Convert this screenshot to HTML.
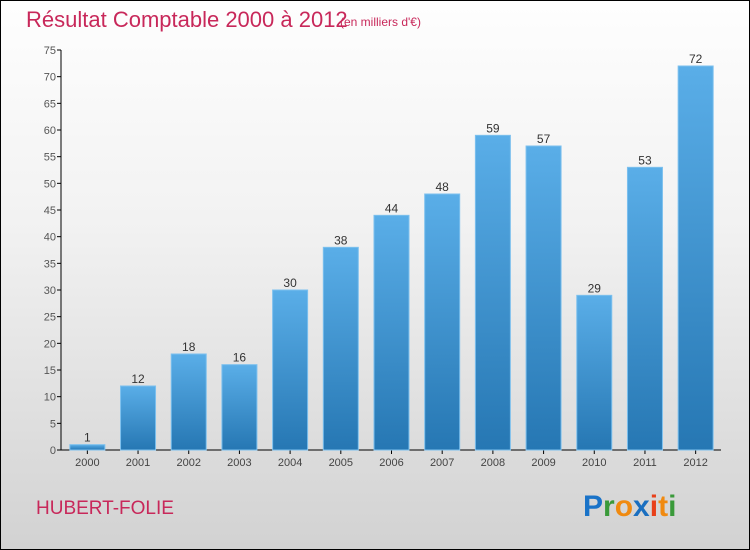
<!DOCTYPE html>
<html><head><meta charset="utf-8"><style>
html,body{margin:0;padding:0}
body{width:750px;height:550px;overflow:hidden;font-family:"Liberation Sans",sans-serif}
#wrap{position:relative;width:748px;height:548px;border:1px solid #000;background:linear-gradient(#fefefe 0%,#f2f2f2 40%,#d2d2d2 100%)}
</style></head><body>
<div id="wrap">
<svg id="chart" width="748" height="548" viewBox="1 1 748 548" style="position:absolute;left:0;top:0">
<defs><linearGradient id="bg" x1="0" y1="0" x2="0" y2="1"><stop offset="0" stop-color="#5aaee8"/><stop offset="1" stop-color="#2677b3"/></linearGradient></defs>
<text x="26" y="27" font-size="22" fill="#c8285a">Résultat Comptable 2000 à 2012</text>
<text x="340" y="26" font-size="12" fill="#c8285a">(en milliers d'€)</text>
<g id="axes"></g><g id="bars"></g>
<text x="36" y="514" font-size="19" fill="#c8285a">HUBERT-FOLIE</text>
<g font-size="30" font-weight="bold" font-family="'Liberation Sans',sans-serif">
<text x="583" y="516"><tspan fill="#1a73c8">P</tspan><tspan fill="#3a9a3a">r</tspan><tspan fill="#f08a10">o</tspan><tspan fill="#1a6fc0">x</tspan><tspan fill="#e8401a">i</tspan><tspan fill="#f08a10">t</tspan><tspan fill="#3a9a3a">i</tspan></text>
</g>
</svg>
</div>
<script>
const categories=["2000","2001","2002","2003","2004","2005","2006","2007","2008","2009","2010","2011","2012"];
const values=[1,12,18,16,30,38,44,48,59,57,29,53,72];
const yTicks=[0,5,10,15,20,25,30,35,40,45,50,55,60,65,70,75];
const NS="http://www.w3.org/2000/svg";
const x0=62,x1=721,yTop=50,yBot=450,yMax=75;
const y=v=>yBot-(v/yMax)*(yBot-yTop);
const step=(x1-x0)/categories.length;
const xc=i=>x0+step*(i+0.5);
function mk(t,a,p){const e=document.createElementNS(NS,t);for(const k in a)e.setAttribute(k,a[k]);p.appendChild(e);return e;}
const ax=document.getElementById('axes'),bars=document.getElementById('bars');
const yl=mk('line',{x1:x0-1,y1:yTop,x2:x0-1,y2:yBot,stroke:'#000'},ax);


const xl=mk('line',{x1:x0-1,y1:yBot,x2:x1,y2:yBot,stroke:'#000'},ax);


yTicks.forEach(v=>{
 mk('line',{x1:x0-5,y1:y(v),x2:x0-1,y2:y(v),stroke:'#000'},ax);
 const t=mk('text',{x:x0-6,y:y(v)+4,'font-size':11,fill:'#555','text-anchor':'end'},ax);
 t.textContent=v;
 
 
});
categories.forEach((c,i)=>{
 const bw=35,h=yBot-y(values[i]);
 const r=mk('rect',{x:xc(i)-bw/2,y:y(values[i]),width:bw,height:h,fill:'url(#bg)',stroke:'#7cc0ee','stroke-width':1},bars);
 
 
 const vt=mk('text',{x:xc(i),y:y(values[i])-3,'font-size':12,fill:'#333','text-anchor':'middle'},bars);
 vt.textContent=values[i];
 
 
 mk('line',{x1:xc(i),y1:yBot,x2:xc(i),y2:yBot+4,stroke:'#000'},ax);
 const xt=mk('text',{x:xc(i),y:yBot+16,'font-size':11,fill:'#444','text-anchor':'middle'},ax);
 xt.textContent=c;
 
 
});
</script>
</body></html>
